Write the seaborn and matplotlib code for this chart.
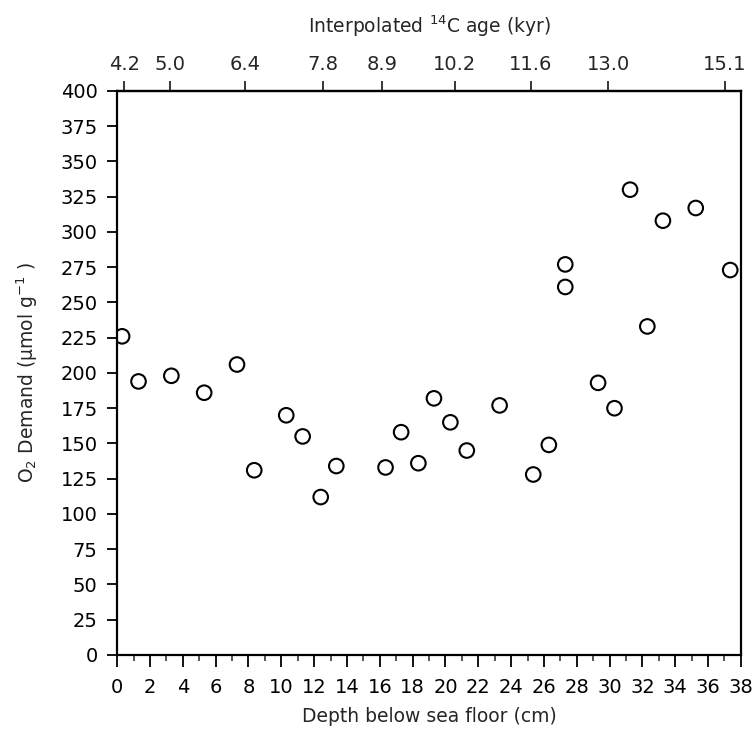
import matplotlib
matplotlib.use("Agg")
import matplotlib.pyplot as plt
import seaborn as sns
import pandas as pd
import numpy as np

# --- data ---
depth_cm = [0.3, 1.3, 3.3, 5.3, 7.3, 8.35, 10.3, 11.3, 12.4, 13.35,
            16.35, 17.3, 18.35, 19.3, 20.3, 21.3, 23.3, 25.35, 26.3, 27.3,
            27.3, 29.3, 30.3, 31.25, 32.3, 33.25, 35.25, 37.35]
o2_demand = [226, 194, 198, 186, 206, 131, 170, 155, 112, 134,
             133, 158, 136, 182, 165, 145, 177, 128, 149, 277,
             261, 193, 175, 330, 233, 308, 317, 273]

age_tick_depth = [0.44, 3.24, 7.77, 12.53, 16.15, 20.56, 25.21, 29.93, 37.04]
age_tick_labels = ["4.2", "5.0", "6.4", "7.8", "8.9", "10.2", "11.6", "13.0", "15.1"]

x_major_ticks = list(range(0, 39, 2))
y_major_ticks = list(range(0, 401, 25))

df = pd.DataFrame({"depth": depth_cm, "o2": o2_demand})

sns.set_style("ticks")
plt.rcParams["font.family"] = ["DejaVu Sans"]
plt.rcParams["mathtext.fontset"] = "dejavusans"
plt.rcParams["mathtext.default"] = "regular"

fig = plt.figure(figsize=(7.56, 7.39), dpi=100)
ax = fig.add_axes([0.155, 0.1137, 0.825, 0.7632])

sns.scatterplot(data=df, x="depth", y="o2", ax=ax, s=110,
                facecolor="none", edgecolor="black", linewidth=1.5,
                legend=False)

ax.set_xlim(0, 38)
ax.set_ylim(0, 400)
ax.set_xticks(x_major_ticks)
ax.set_xticks(list(range(1, 38, 2)), minor=True)
ax.set_yticks(y_major_ticks)
ax.tick_params(axis="both", which="major", direction="out",
               width=1.3, labelsize=14, colors="black")
ax.tick_params(axis="x", which="major", length=8.5, pad=8)
ax.tick_params(axis="x", which="minor", direction="out", length=4, width=1.1)
ax.tick_params(axis="y", which="major", length=7, pad=7)

for sp in ax.spines.values():
    sp.set_visible(True)
    sp.set_linewidth(1.6)
    sp.set_color("black")

ax.set_xlabel("Depth below sea floor (cm)", fontsize=13.5, labelpad=7)
ax.set_ylabel(r"O$_2$ Demand ($\mu$mol g$^{-1}$ )", fontsize=13.5, labelpad=15)

top = ax.secondary_xaxis("top")
top.set_xticks(age_tick_depth)
top.set_xticklabels(age_tick_labels)
top.tick_params(axis="x", direction="out", length=7, width=1.3,
                labelsize=14, pad=5)
top.spines["top"].set_linewidth(1.6)
top.set_xlabel(r"Interpolated $^{14}$C age (kyr)", fontsize=13.5, labelpad=16)

fig.savefig("out.png", dpi=100)
